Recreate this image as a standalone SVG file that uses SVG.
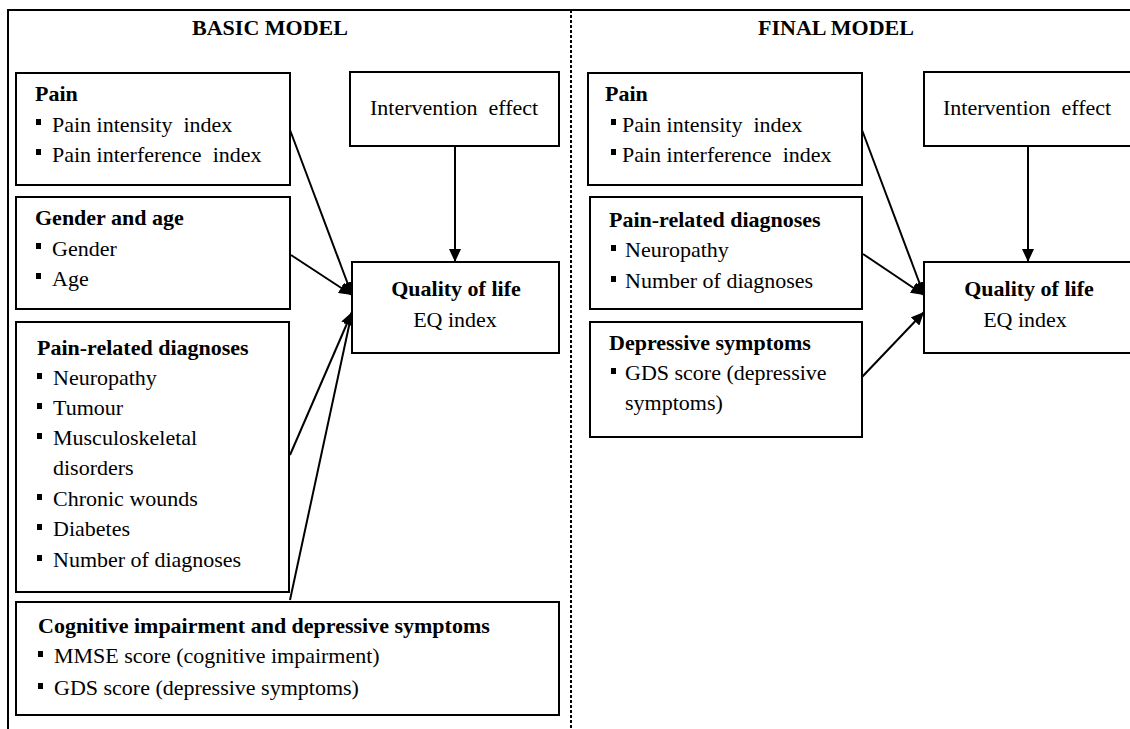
<svg xmlns="http://www.w3.org/2000/svg" width="1130" height="729" viewBox="0 0 1130 729">
<style>
text{font-family:"Liberation Serif","Times New Roman",serif;font-size:22px;fill:#000;white-space:pre}
.h{font-weight:bold}
.t{font-weight:bold;font-size:22px}
.box{fill:#fff;stroke:#000;stroke-width:2}
.frame{fill:none;stroke:#000;stroke-width:2}
.dash{fill:none;stroke:#000;stroke-width:2;stroke-dasharray:3 2}
.c{fill:none;stroke:#000;stroke-width:2;marker-end:url(#ah)}
.b{fill:#000}
</style>
<defs>
<marker id="ah" markerUnits="userSpaceOnUse" markerWidth="14" markerHeight="12" refX="13" refY="6" orient="auto">
<path d="M0,0 L13,6 L0,12 z" fill="#000"/>
</marker>
</defs>
<rect width="1130" height="729" fill="#fff"/>
<g id="frame">
<path class="frame" d="M8,729 V10 H1130"/>
<path class="dash" d="M571,10 V729"/>
<text class="t" x="270" y="35" text-anchor="middle">BASIC MODEL</text>
<text class="t" x="836" y="35" text-anchor="middle">FINAL MODEL</text>
</g>
<g id="connectors">
<path class="c" d="M290,130 L352,295"/>
<path class="c" d="M291,255 L352,295"/>
<path class="c" d="M290,455 L352,312"/>
<path class="c" d="M290,600 L352,312"/>
<path class="c" d="M455,146 L455,262"/>
<path class="c" d="M862,130 L924,295"/>
<path class="c" d="M863,254 L924,295"/>
<path class="c" d="M862,377 L924,312"/>
<path class="c" d="M1028,146 L1028,262"/>
</g>
<g id="basic-pain">
<rect class="box" x="16" y="73" width="274" height="112"/>
<text class="h" x="35" y="101">Pain</text>
<rect class="b" x="36" y="119" width="5" height="6"/>
<text x="52" y="132">Pain intensity  index</text>
<rect class="b" x="36" y="149" width="5" height="6"/>
<text x="52" y="162">Pain interference  index</text>
</g>
<g id="basic-gender">
<rect class="box" x="16" y="197" width="274" height="112"/>
<text class="h" x="35" y="225">Gender and age</text>
<rect class="b" x="36" y="243" width="5" height="6"/>
<text x="52" y="256">Gender</text>
<rect class="b" x="36" y="273" width="5" height="6"/>
<text x="52" y="286">Age</text>
</g>
<g id="basic-diagnoses">
<rect class="box" x="16" y="322" width="273" height="270"/>
<text class="h" x="37" y="355">Pain-related diagnoses</text>
<rect class="b" x="37" y="373" width="5" height="6"/>
<text x="53" y="385">Neuropathy</text>
<rect class="b" x="37" y="403" width="5" height="6"/>
<text x="53" y="415">Tumour</text>
<rect class="b" x="37" y="433" width="5" height="6"/>
<text x="53" y="445">Musculoskeletal</text>
<text x="53" y="475">disorders</text>
<rect class="b" x="37" y="494" width="5" height="6"/>
<text x="53" y="506">Chronic wounds</text>
<rect class="b" x="37" y="524" width="5" height="6"/>
<text x="53" y="536">Diabetes</text>
<rect class="b" x="37" y="555" width="5" height="6"/>
<text x="53" y="567">Number of diagnoses</text>
</g>
<g id="basic-cognitive">
<rect class="box" x="16" y="602" width="543" height="113"/>
<text class="h" x="38" y="633">Cognitive impairment and depressive symptoms</text>
<rect class="b" x="38" y="651" width="5" height="6"/>
<text x="54" y="663">MMSE score (cognitive impairment)</text>
<rect class="b" x="38" y="683" width="5" height="6"/>
<text x="54" y="695">GDS score (depressive symptoms)</text>
</g>
<g id="basic-intervention">
<rect class="box" x="350" y="72" width="209" height="74"/>
<text x="370" y="115">Intervention  effect</text>
</g>
<g id="basic-qol">
<rect class="box" x="352" y="262" width="207" height="91"/>
<text class="h" x="456" y="296" text-anchor="middle">Quality of life</text>
<text x="455" y="327" text-anchor="middle">EQ index</text>
</g>
<g id="final-pain">
<rect class="box" x="588" y="73" width="274" height="112"/>
<text class="h" x="605" y="101">Pain</text>
<rect class="b" x="611" y="119" width="5" height="6"/>
<text x="622" y="132">Pain intensity  index</text>
<rect class="b" x="611" y="149" width="5" height="6"/>
<text x="622" y="162">Pain interference  index</text>
</g>
<g id="final-diagnoses">
<rect class="box" x="590" y="197" width="272" height="112"/>
<text class="h" x="609" y="227">Pain-related diagnoses</text>
<rect class="b" x="611" y="245" width="5" height="6"/>
<text x="625" y="257">Neuropathy</text>
<rect class="b" x="611" y="276" width="5" height="6"/>
<text x="625" y="288">Number of diagnoses</text>
</g>
<g id="final-depressive">
<rect class="box" x="590" y="322" width="272" height="115"/>
<text class="h" x="609" y="350">Depressive symptoms</text>
<rect class="b" x="611" y="368" width="5" height="6"/>
<text x="625" y="380">GDS score (depressive</text>
<text x="625" y="410">symptoms)</text>
</g>
<g id="final-intervention">
<rect class="box" x="924" y="72" width="220" height="74"/>
<text x="943" y="115">Intervention  effect</text>
</g>
<g id="final-qol">
<rect class="box" x="924" y="262" width="220" height="91"/>
<text class="h" x="1029" y="296" text-anchor="middle">Quality of life</text>
<text x="1025" y="327" text-anchor="middle">EQ index</text>
</g>
</svg>
